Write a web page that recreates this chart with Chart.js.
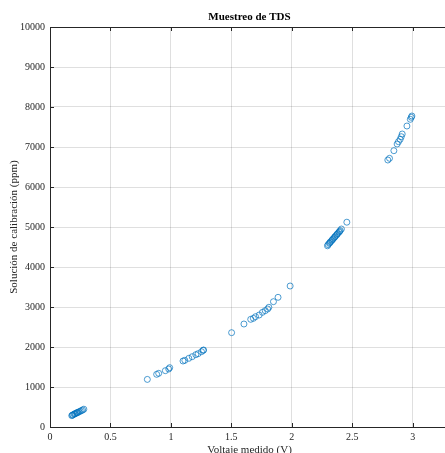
<!DOCTYPE html>
<html>
<head>
<meta charset="utf-8">
<script src="https://cdn.jsdelivr.net/npm/chart.js@4.4.0/dist/chart.umd.min.js"></script>
<style>
  html, body { margin: 0; padding: 0; background: #fff; overflow: hidden; }
  #wrap { width: 454px; height: 453px; }
</style>
</head>
<body>
<div id="wrap"><canvas id="myChart" width="454" height="453"></canvas></div>
<script>
// datos
const titulo = "Muestreo de TDS"
const etiquetaX = "Voltaje medido (V)"
const etiquetaY = "Solución de calibración (ppm)"

const voltaje = [
  0.18, 0.185, 0.19, 0.20, 0.205, 0.21, 0.22, 0.225, 0.23, 0.24, 0.25, 0.26, 0.27, 0.28,
  0.805, 0.882, 0.899, 0.954, 0.982, 0.99, 1.10, 1.115, 1.148, 1.176, 1.206, 1.225, 1.253, 1.267, 1.27,
  1.502,
  1.604, 1.66, 1.682, 1.70, 1.73, 1.757, 1.78, 1.80, 1.81, 1.848, 1.886, 1.986,
  2.295, 2.30, 2.31, 2.315, 2.32, 2.33, 2.335, 2.34, 2.35, 2.355, 2.36, 2.37, 2.375, 2.38, 2.39, 2.395, 2.40, 2.41, 2.455,
  2.794, 2.808, 2.844, 2.871, 2.882, 2.896, 2.905, 2.913, 2.952, 2.98, 2.988, 2.993
]
const solucion = [
  285, 295, 305, 320, 330, 335, 350, 360, 365, 380, 395, 410, 425, 445,
  1190, 1317, 1342, 1408, 1450, 1483, 1650, 1667, 1717, 1758, 1808, 1833, 1883, 1917, 1925,
  2358,
  2575, 2692, 2717, 2758, 2800, 2867, 2908, 2950, 2992, 3133, 3242, 3525,
  4530, 4560, 4590, 4610, 4630, 4660, 4680, 4700, 4730, 4750, 4770, 4800, 4820, 4840, 4870, 4890, 4910, 4950, 5120,
  6675, 6717, 6908, 7075, 7133, 7192, 7258, 7325, 7525, 7692, 7742, 7775
]
const ticksX = [0, 0.5, 1, 1.5, 2, 2.5, 3]
const ticksY = [0, 1000, 2000, 3000, 4000, 5000, 6000, 7000, 8000, 9000, 10000]

const fuente = "'Liberation Serif', 'DejaVu Serif', serif"
const colorEje = '#262626'

const puntos = voltaje.map((v, i) => ({ x: v, y: solucion[i] }))

// caja y ticks hacia adentro, estilo matlab
const cajaPlugin = {
  id: 'caja',
  afterDraw(chart) {
    const ctx = chart.ctx
    const a = chart.chartArea
    const sx = chart.scales.x, sy = chart.scales.y
    ctx.save()
    ctx.strokeStyle = colorEje
    ctx.lineWidth = 1
    ctx.beginPath()
    ctx.moveTo(a.left + 0.5, a.bottom + 0.5)
    ctx.lineTo(a.left + 0.5, a.top + 0.5)
    ctx.lineTo(a.right, a.top + 0.5)
    ctx.moveTo(a.left, a.bottom + 0.5)
    ctx.lineTo(a.right, a.bottom + 0.5)
    ctx.lineTo(a.right, a.top)
    const t = 4
    ticksX.forEach(v => {
      const px = Math.round(sx.getPixelForValue(v)) + 0.5
      ctx.moveTo(px, a.bottom); ctx.lineTo(px, a.bottom - t)
      ctx.moveTo(px, a.top); ctx.lineTo(px, a.top + t)
    })
    ticksY.forEach(v => {
      const py = Math.round(sy.getPixelForValue(v)) + 0.5
      ctx.moveTo(a.left, py); ctx.lineTo(a.left + t, py)
      ctx.moveTo(a.right, py); ctx.lineTo(a.right - t, py)
    })
    ctx.stroke()
    // titulo centrado sobre el area
    ctx.fillStyle = '#000'
    ctx.font = "bold 11px " + fuente
    ctx.textAlign = 'center'
    ctx.textBaseline = 'middle'
    ctx.fillText(titulo, (a.left + a.right) / 2, a.top - 10)
    ctx.restore()
  }
}

let ctx = document.getElementById('myChart').getContext('2d')
let myChart = new Chart(ctx, {
  type: 'scatter',
  data: {
    datasets: [{
      label: 'TDS',
      data: puntos,
      pointStyle: 'circle',
      pointRadius: 3,
      pointBorderWidth: 1,
      borderColor: 'rgba(0,114,189,0.7)',
      backgroundColor: 'rgba(0,0,0,0)'
    }]
  },
  options: {
    responsive: false,
    animation: false,
    layout: { padding: { top: 27, right: 2 } },
    plugins: { legend: { display: false }, tooltip: { enabled: false }, title: { display: false } },
    scales: {
      x: {
        type: 'linear',
        min: 0, max: 3.3,
        afterBuildTicks: s => { s.ticks = ticksX.map(v => ({ value: v })) },
        afterFit: s => { s.height = 26 },
        grid: { color: 'rgba(38,38,38,0.15)', drawTicks: false },
        border: { display: false },
        ticks: { color: colorEje, padding: 4, font: { family: fuente, size: 10 }, maxRotation: 0,
                 callback: v => String(v) },
        title: { display: true, text: etiquetaX, color: colorEje, padding: { top: 8, bottom: -4 },
                 font: { family: fuente, size: 11 } }
      },
      y: {
        type: 'linear',
        min: 0, max: 10000,
        afterBuildTicks: s => { s.ticks = ticksY.map(v => ({ value: v })) },
        afterFit: s => { s.width = 50 },
        grid: { color: 'rgba(38,38,38,0.15)', drawTicks: false },
        border: { display: false },
        ticks: { color: colorEje, padding: 5, font: { family: fuente, size: 10 },
                 callback: v => String(v) },
        title: { display: true, text: etiquetaY, color: colorEje, padding: { top: 8, bottom: 0 },
                 font: { family: fuente, size: 11 } }
      }
    }
  },
  plugins: [cajaPlugin]
})
</script>
</body>
</html>
